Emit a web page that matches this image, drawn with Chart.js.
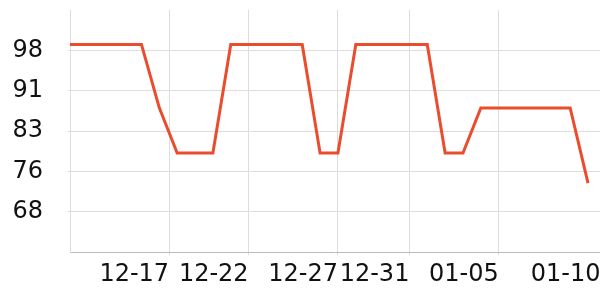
<!DOCTYPE html>
<html>
<head>
<meta charset="utf-8">
<script src="https://cdn.jsdelivr.net/npm/chart.js@4/dist/chart.umd.min.js"></script>
<style>
  html, body { margin: 0; padding: 0; background: #fff; }
  #wrap { width: 600px; height: 300px; }
</style>
</head>
<body>
<div id="wrap"><canvas id="rateChart"></canvas></div>
<script>
// one point per day, 12-12 .. 01-10
var days = ['12-12','12-13','12-14','12-15','12-16','12-17','12-18','12-19','12-20','12-21',
            '12-22','12-23','12-24','12-25','12-26','12-27','12-28','12-29','12-30','12-31',
            '01-01','01-02','01-03','01-04','01-05','01-06','01-07','01-08','01-09','01-10'];
var rates = [99.1, 99.1, 99.1, 99.1, 99.1, 87.3, 78.9, 78.9, 78.9, 99.1,
             99.1, 99.1, 99.1, 99.1, 78.9, 78.9, 99.1, 99.1, 99.1, 99.1,
             99.1, 78.9, 78.9, 87.3, 87.3, 87.3, 87.3, 87.3, 87.3, 73.3];

// x tick labels and where they sit (in day index units)
var xTickLabels = ['12-17', '12-22', '12-27', '12-31', '01-05', '01-10'];
var xTickPos = [5.55, 10, 15, 19, 24, 29.7];

// y ticks
var yTicks = [68, 75.5, 83, 90.5, 98];

var points = [];
for (var i in rates) {
    points.push({x: Number(i), y: rates[i], day: days[i]});
}

function noEdgePadding(axis) {
    axis.paddingTop = 0;
    axis.paddingBottom = 0;
    axis.paddingLeft = 0;
    axis.paddingRight = 0;
}

var ctx = document.getElementById('rateChart');

var myChart = new Chart(ctx, {
    type: 'line',
    data: {
        datasets: [{
            label: 'rate',
            data: points,
            borderColor: 'rgb(234, 76, 46)',
            borderWidth: 3,
            pointRadius: 0,
            tension: 0,
            fill: false
        }]
    },
    options: {
        responsive: true,
        maintainAspectRatio: false,
        animation: false,
        layout: { padding: { top: 10, right: 0, left: 0, bottom: 0 } },
        plugins: {
            legend: { display: false },
            tooltip: { enabled: false }
        },
        scales: {
            x: {
                type: 'linear',
                min: 0,
                max: 29.67,
                afterBuildTicks: function(axis) {
                    axis.ticks = xTickPos.map(function(v) { return {value: v}; });
                },
                afterFit: function(axis) { axis.height = 48; noEdgePadding(axis); },
                grid: { color: '#dddddd', tickLength: 3 },
                border: { color: '#bbbbbb', width: 1 },
                ticks: {
                    autoSkip: false,
                    maxRotation: 0,
                    align: 'end',
                    padding: 5,
                    color: '#111',
                    font: { family: 'DejaVu Sans', size: 24 },
                    callback: function(value, index) { return xTickLabels[index]; }
                }
            },
            y: {
                min: 60.5,
                max: 105.5,
                afterBuildTicks: function(axis) {
                    axis.ticks = yTicks.map(function(v) { return {value: v}; });
                },
                afterFit: function(axis) { axis.width = 70; noEdgePadding(axis); },
                grid: { color: '#dddddd', tickLength: 2 },
                border: { color: '#dddddd', width: 1 },
                ticks: {
                    padding: 25,
                    color: '#111',
                    font: { family: 'DejaVu Sans', size: 24 },
                    callback: function(value) { return Math.round(value); }
                }
            }
        }
    }
});
</script>
</body>
</html>
